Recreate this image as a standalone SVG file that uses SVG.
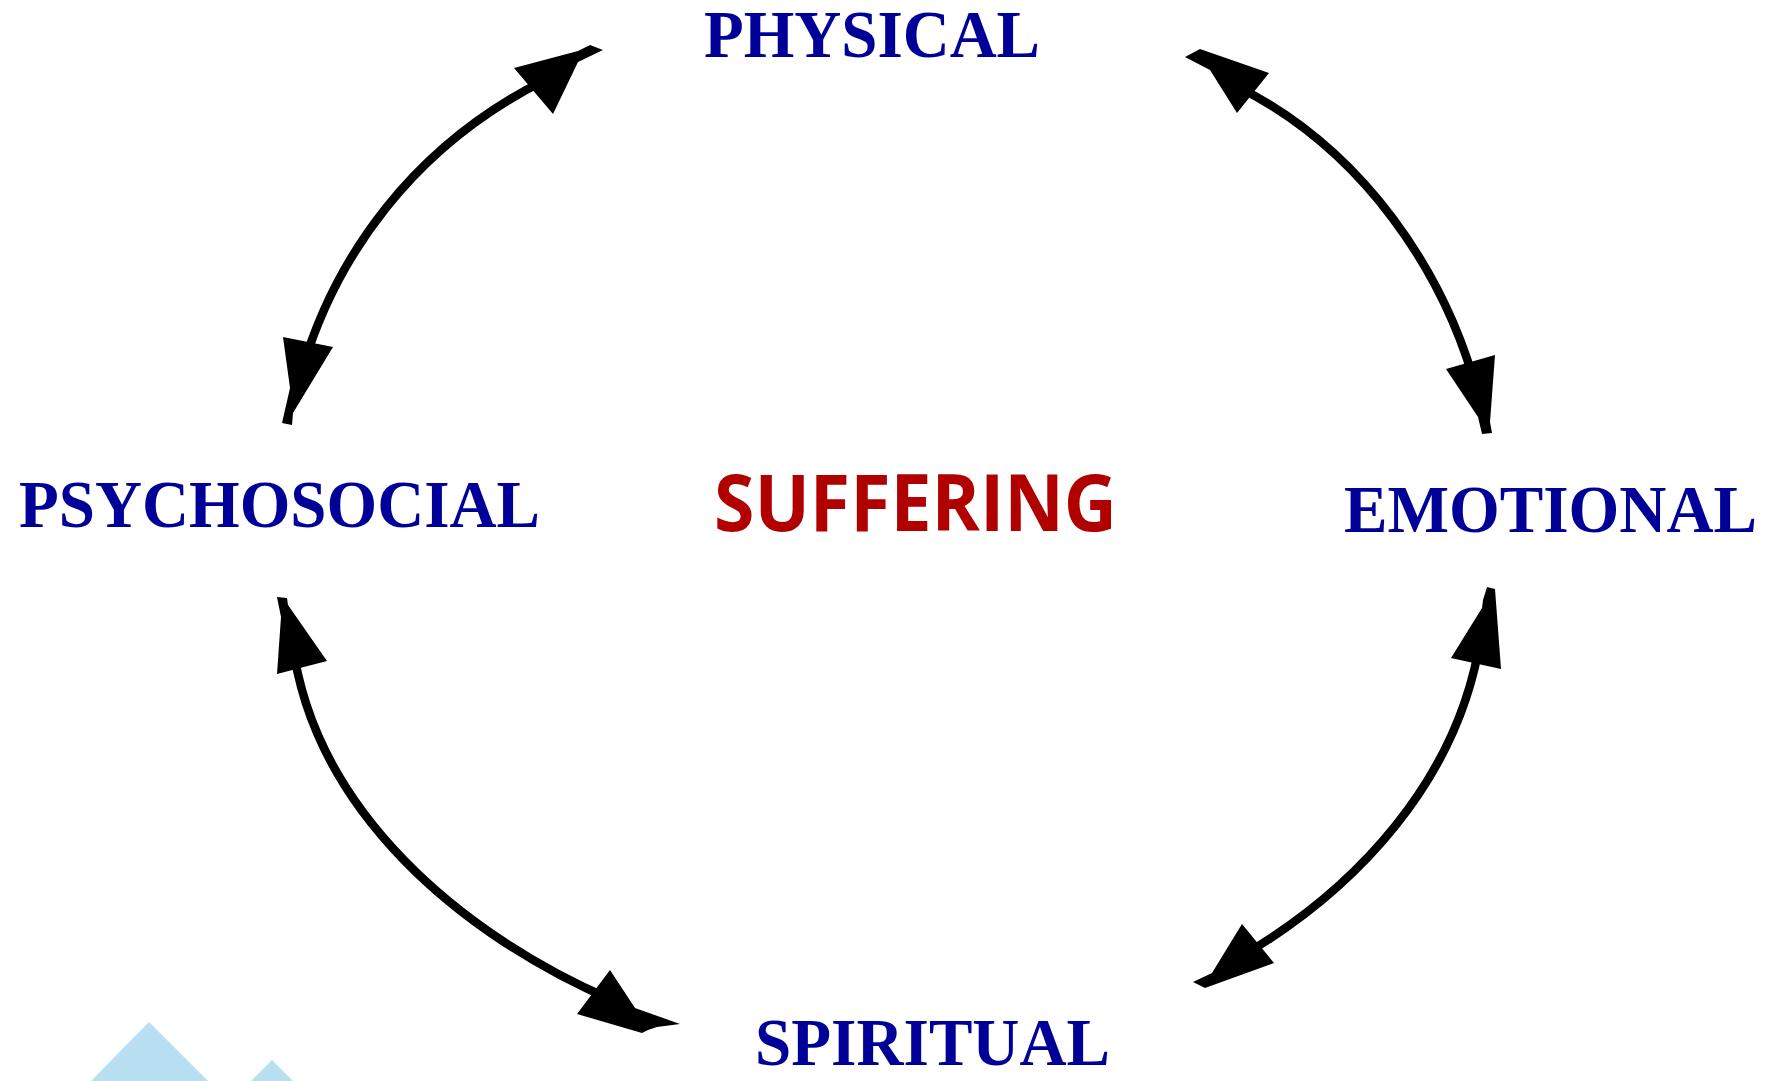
<svg xmlns="http://www.w3.org/2000/svg" width="1768" height="1081" viewBox="0 0 1768 1081">
  <style>
    .lbl { font-family: "Liberation Serif", "Times New Roman", serif; font-weight: bold; font-size: 67px; fill: #000099; }
    .center { font-family: "Open Sans", "Noto Sans", sans-serif; font-weight: bold; font-size: 79px; fill: #B00000; }
    .arc { fill: none; stroke: #000000; stroke-width: 8.5; }
    .head { fill: #000000; stroke: none; }
    .deco { fill: #B8E0F2; }
  </style>
  <rect width="1768" height="1081" fill="#FFFFFF"/>

  <g id="decoration">
    <polygon class="deco" points="149,1022 208,1081 91,1081"/>
    <polygon class="deco" points="272,1060 293,1081 251,1081"/>
  </g>

  <g id="connectors">
    <!-- PSYCHOSOCIAL <-> PHYSICAL -->
    <path class="arc" d="M302,370 C335,258 411.5,147 545,80"/>
    <polygon class="head" points="514,68 578,51 590,45 603,50 578,62 553,114"/>
    <polygon class="head" points="283,337 333,347 293,413 292,425 282,423 290,388"/>
    <!-- PHYSICAL <-> EMOTIONAL -->
    <path class="arc" d="M1240,88 C1362,150 1445,270 1478,395"/>
    <polygon class="head" points="1185,57 1200,49 1269,73 1237,113 1210,70"/>
    <polygon class="head" points="1446,369 1495,355 1490,422 1492,433 1482,434 1478,417"/>
    <!-- PSYCHOSOCIAL <-> SPIRITUAL -->
    <path class="arc" d="M292,640 C313,811 462,935 612,1000"/>
    <polygon class="head" points="277,597 287,598 288,605 327,661 277,674 281,617"/>
    <polygon class="head" points="577,1014 610,970 635,1008 680,1024 657,1027 648,1030 642,1033"/>
    <!-- EMOTIONAL <-> SPIRITUAL -->
    <path class="arc" d="M1481,635 C1460,779 1356,891 1235,960"/>
    <polygon class="head" points="1487,587 1495,589 1501,669 1451,658 1482,608 1483,600"/>
    <polygon class="head" points="1242,924 1274,963 1205,988 1193,982 1212,973"/>
  </g>

  <g id="node-physical">
    <text class="lbl" x="704" y="57" textLength="336" lengthAdjust="spacingAndGlyphs">PHYSICAL</text>
  </g>
  <g id="node-psychosocial">
    <text class="lbl" x="19" y="527" textLength="521" lengthAdjust="spacingAndGlyphs">PSYCHOSOCIAL</text>
  </g>
  <g id="node-emotional">
    <text class="lbl" x="1344" y="532" textLength="413" lengthAdjust="spacingAndGlyphs">EMOTIONAL</text>
  </g>
  <g id="node-spiritual">
    <text class="lbl" x="755" y="1065" textLength="355" lengthAdjust="spacingAndGlyphs">SPIRITUAL</text>
  </g>
  <g id="node-suffering">
    <text class="center" x="714" y="531" textLength="403" lengthAdjust="spacingAndGlyphs">SUFFERING</text>
  </g>
</svg>
